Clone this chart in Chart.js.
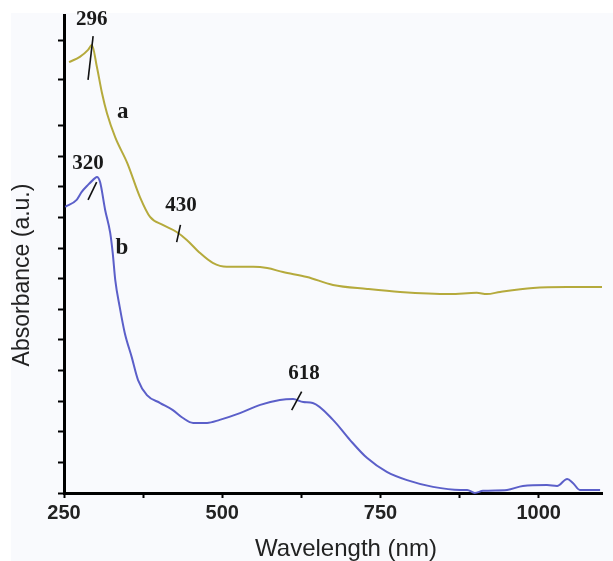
<!DOCTYPE html>
<html>
<head>
<meta charset="utf-8">
<script src="https://cdn.jsdelivr.net/npm/chart.js@4"></script>
<style>
  html, body { margin: 0; padding: 0; background: #fff; }
  #wrap { width: 613px; height: 561px; }
</style>
</head>
<body>
<div id="wrap"><canvas id="chart" width="613" height="561"></canvas></div>
<script>
// Spectrum a (olive) and spectrum b (blue), wavelength in nm, absorbance in a.u.
const aWave = [258, 275, 288, 294, 302, 310, 318, 331, 350, 370, 386, 406, 428, 444, 465, 485, 507, 549, 571, 596, 634, 675, 729, 781, 860, 902, 918, 939, 991, 1045, 1100];
const aAbs = [14.08, 14.25, 14.48, 14.64, 13.92, 13.07, 12.40, 11.62, 10.78, 9.67, 9.02, 8.76, 8.53, 8.27, 7.84, 7.52, 7.39, 7.39, 7.35, 7.22, 7.06, 6.80, 6.67, 6.57, 6.50, 6.54, 6.50, 6.57, 6.70, 6.73, 6.73];

const bWave = [252, 270, 278, 288, 299, 302, 307, 315, 323, 327, 331, 338, 346, 357, 367, 381, 402, 422, 438, 454, 476, 496, 528, 560, 591, 612, 628, 643, 675, 702, 729, 760, 792, 833, 876, 887, 899, 912, 950, 975, 1013, 1029, 1045, 1054, 1065, 1097];
const bAbs = [9.35, 9.58, 9.84, 10.07, 10.29, 10.33, 10.16, 9.25, 8.50, 7.84, 6.96, 6.08, 5.23, 4.44, 3.69, 3.20, 2.94, 2.71, 2.45, 2.29, 2.29, 2.39, 2.61, 2.88, 3.04, 3.07, 2.97, 2.94, 2.39, 1.73, 1.14, 0.69, 0.42, 0.20, 0.10, 0.10, 0.0, 0.07, 0.10, 0.23, 0.26, 0.23, 0.46, 0.33, 0.10, 0.10];

// axis ticks
const xTicks = [250, 375, 500, 625, 750, 875, 1000];
const xTickLabels = ['250', '', '500', '', '750', '', '1000'];
const yTicks = [0, 1, 2, 3, 4, 5, 6, 7, 8, 9, 10, 11, 12, 13.5, 14.8];

// peak annotations: label, text position, marker line ends
const peakLabels = ['296', '320', '430', '618'];
const peakTextX = [294, 288, 435, 629];
const peakTextY = [15.46, 10.78, 9.38, 3.89];
const markX1 = [296, 301.6, 434, 625.5];
const markY1 = [14.93, 10.16, 8.76, 3.31];
const markX2 = [288, 288, 428, 609.7];
const markY2 = [13.50, 9.58, 8.20, 2.71];

const curveLabels = ['a', 'b'];
const curveLabelX = [343, 341.6];
const curveLabelY = [12.45, 8.0];

const toPoints = (xs, ys) => xs.map((x, i) => ({ x: x, y: ys[i] }));

// light panel behind the figure
const backdrop = {
    id: 'backdrop',
    beforeDraw(chart) {
        const ctx = chart.ctx;
        ctx.save();
        ctx.fillStyle = '#ffffff';
        ctx.fillRect(0, 0, chart.width, chart.height);
        ctx.fillStyle = '#f9fafd';
        ctx.fillRect(11, 13, chart.width - 11, chart.height - 13);
        ctx.restore();
    }
};

// peak labels, markers, curve names and axis titles
const notes = {
    id: 'notes',
    afterDatasetsDraw(chart) {
        const ctx = chart.ctx;
        const xs = chart.scales.x;
        const ys = chart.scales.y;
        ctx.save();
        ctx.strokeStyle = '#111';
        ctx.lineWidth = 1.6;
        for (let i = 0; i < peakLabels.length; i++) {
            ctx.beginPath();
            ctx.moveTo(xs.getPixelForValue(markX1[i]), ys.getPixelForValue(markY1[i]));
            ctx.lineTo(xs.getPixelForValue(markX2[i]), ys.getPixelForValue(markY2[i]));
            ctx.stroke();
        }
        ctx.fillStyle = '#1a1a1a';
        ctx.textAlign = 'center';
        ctx.textBaseline = 'middle';
        ctx.font = 'bold 21px "Liberation Serif"';
        for (let i = 0; i < peakLabels.length; i++) {
            ctx.fillText(peakLabels[i], xs.getPixelForValue(peakTextX[i]), ys.getPixelForValue(peakTextY[i]));
        }
        ctx.font = 'bold 23px "Liberation Serif"';
        for (let i = 0; i < curveLabels.length; i++) {
            ctx.fillText(curveLabels[i], xs.getPixelForValue(curveLabelX[i]), ys.getPixelForValue(curveLabelY[i]));
        }

        // axis titles
        ctx.fillStyle = '#222';
        ctx.font = '24px "Liberation Sans"';
        ctx.fillText('Wavelength (nm)', 346, 549);
        ctx.translate(23, 275);
        ctx.rotate(-Math.PI / 2);
        ctx.font = '23px "Liberation Sans"';
        ctx.fillText('Absorbance (a.u.)', 0, 0);
        ctx.restore();
    }
};

const config = {
    type: 'line',
    data: {
        datasets: [
            {
                label: 'a',
                data: toPoints(aWave, aAbs),
                borderColor: '#b5aa3c',
                borderWidth: 2,
                pointRadius: 0,
                cubicInterpolationMode: 'monotone',
                clip: 6,
            },
            {
                label: 'b',
                data: toPoints(bWave, bAbs),
                borderColor: '#5b5fc9',
                borderWidth: 2,
                pointRadius: 0,
                cubicInterpolationMode: 'monotone',
                clip: 6,
            },
        ]
    },
    options: {
        responsive: false,
        animation: false,
        events: [],
        layout: { padding: { left: 0, right: 11, top: 15, bottom: 0 } },
        plugins: {
            legend: { display: false },
            tooltip: { enabled: false },
        },
        scales: {
            x: {
                type: 'linear',
                min: 250,
                max: 1100,
                afterBuildTicks(scale) {
                    scale.ticks = xTicks.map(v => ({ value: v }));
                },
                afterFit(scale) {
                    scale.height = 68;
                },
                border: { color: '#000', width: 3 },
                grid: { drawOnChartArea: false, drawTicks: true, tickLength: 5, tickWidth: 2, tickColor: '#000' },
                ticks: {
                    autoSkip: false,
                    maxRotation: 0,
                    padding: 3,
                    color: '#222',
                    font: { family: 'Liberation Sans', size: 20, weight: 'bold' },
                    callback: (value) => xTickLabels[xTicks.indexOf(value)] || '',
                },
            },
            y: {
                type: 'linear',
                min: 0,
                max: 15.62,
                afterBuildTicks(scale) {
                    scale.ticks = yTicks.map(v => ({ value: v }));
                },
                afterFit(scale) {
                    scale.width = 64;
                },
                border: { color: '#000', width: 3 },
                grid: { drawOnChartArea: false, drawTicks: true, tickLength: 6, tickWidth: 2, tickColor: '#000' },
                ticks: { display: false },
            },
        },
    },
    plugins: [backdrop, notes],
};

new Chart(document.getElementById('chart'), config);
</script>
</body>
</html>
